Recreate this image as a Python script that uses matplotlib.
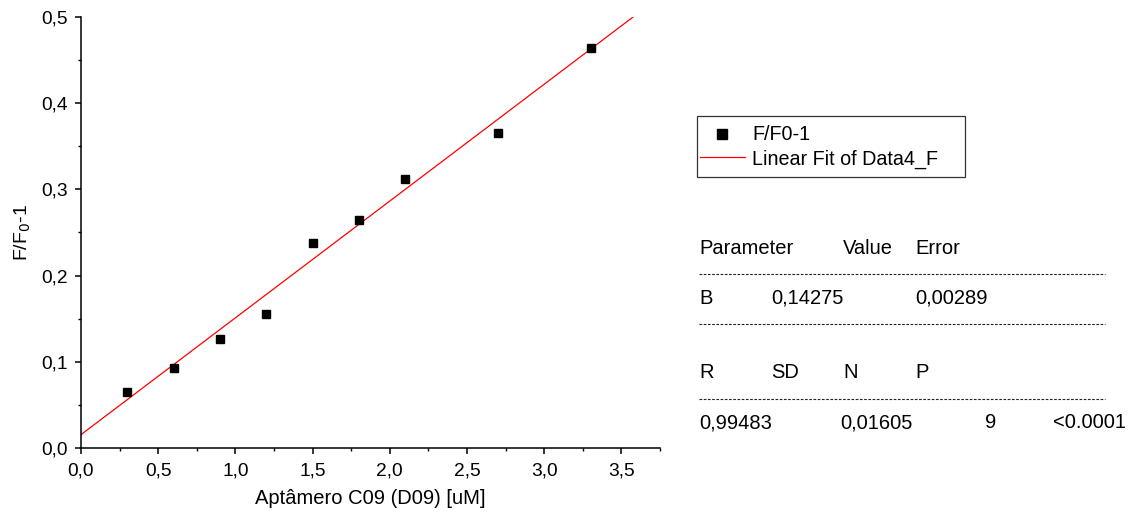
import matplotlib
matplotlib.use("Agg")
import matplotlib.pyplot as plt
from matplotlib.ticker import MultipleLocator, FuncFormatter
from matplotlib.lines import Line2D
from matplotlib.patches import Rectangle
import numpy as np

plt.rcParams['font.family'] = ['Liberation Sans', 'DejaVu Sans']

# data
conc = [0.3, 0.6, 0.9, 1.2, 1.5, 1.8, 2.1, 2.7, 3.3]
ratio = [0.065, 0.0925, 0.127, 0.156, 0.2375, 0.265, 0.312, 0.365, 0.464]
fit_intercept = 0.0155
fit_slope = 0.1355
fit_x = [0.0, 3.575]

W, H = 1137, 515
fig = plt.figure(figsize=(W / 100, H / 100), dpi=100, facecolor='white')
ax = fig.add_axes([81 / W, 1 - 448 / H, (660 - 81) / W, (448 - 17) / H])

fx = np.array(fit_x)
ax.plot(fx, fit_intercept + fit_slope * fx, color='#ff0000', lw=0.9,
        label='Linear Fit of Data4_F', zorder=2)
ax.plot(conc, ratio, ls='none', marker='s', ms=6.2, color='black',
        label='F/F0-1', zorder=3)

ax.set_xlim(0, 3.75)
ax.set_ylim(0, 0.5)
ax.xaxis.set_major_locator(MultipleLocator(0.5))
ax.xaxis.set_minor_locator(MultipleLocator(0.25))
ax.yaxis.set_major_locator(MultipleLocator(0.1))
ax.yaxis.set_minor_locator(MultipleLocator(0.05))
comma = FuncFormatter(lambda v, p: f'{v:.1f}'.replace('.', ','))
ax.xaxis.set_major_formatter(comma)
ax.yaxis.set_major_formatter(comma)
for s in ['top', 'right']:
    ax.spines[s].set_visible(False)
for s in ['left', 'bottom']:
    ax.spines[s].set_linewidth(1.1)
ax.tick_params(which='major', direction='out', length=4.5, width=1.1,
               labelsize=13.8, pad=5)
ax.tick_params(axis='x', which='major', pad=6)
ax.tick_params(which='minor', direction='out', length=2.5, width=1.0)
ax.set_xlabel('Aptâmero C09 (D09) [uM]', fontsize=14.5, labelpad=7)
ax.set_ylabel('F/F$_0$-1', fontsize=14, labelpad=6)

h, l = ax.get_legend_handles_labels()
fig.legend(h[::-1], l[::-1], loc='center left',
           bbox_to_anchor=(700 / W, 1 - 147 / H), fontsize=14.2,
           frameon=False, borderpad=0, handlelength=2.28, handletextpad=0.36,
           labelspacing=0.25, borderaxespad=0, markerscale=1.25)
fig.add_artist(Rectangle((697 / W, 1 - 177 / H), 268 / W, 61 / H,
                         transform=fig.transFigure, fill=False,
                         edgecolor='#333333', lw=0.9))

# fit result table
def put(x, y, s):
    fig.text(x / W, 1 - y / H, s, fontsize=14.5, ha='left', va='center')

put(699, 248, 'Parameter')
put(843, 248, 'Value')
put(915, 248, 'Error')
put(699, 298, 'B')
put(771, 298, '0,14275')
put(915, 298, '0,00289')
put(699, 373, 'R')
put(771, 373, 'SD')
put(843, 373, 'N')
put(915, 373, 'P')
put(699, 423, '0,99483')
put(840, 423, '0,01605')
put(985, 423, '9')
put(1053, 423, '<0.0001')
for y in [274, 324, 399]:
    fig.add_artist(Line2D([699 / W, 1105 / W], [1 - y / H] * 2, color='#222222',
                          lw=0.8, linestyle=(0, (2.4, 1.4))))

fig.savefig('out.png', dpi=100, facecolor='white')
